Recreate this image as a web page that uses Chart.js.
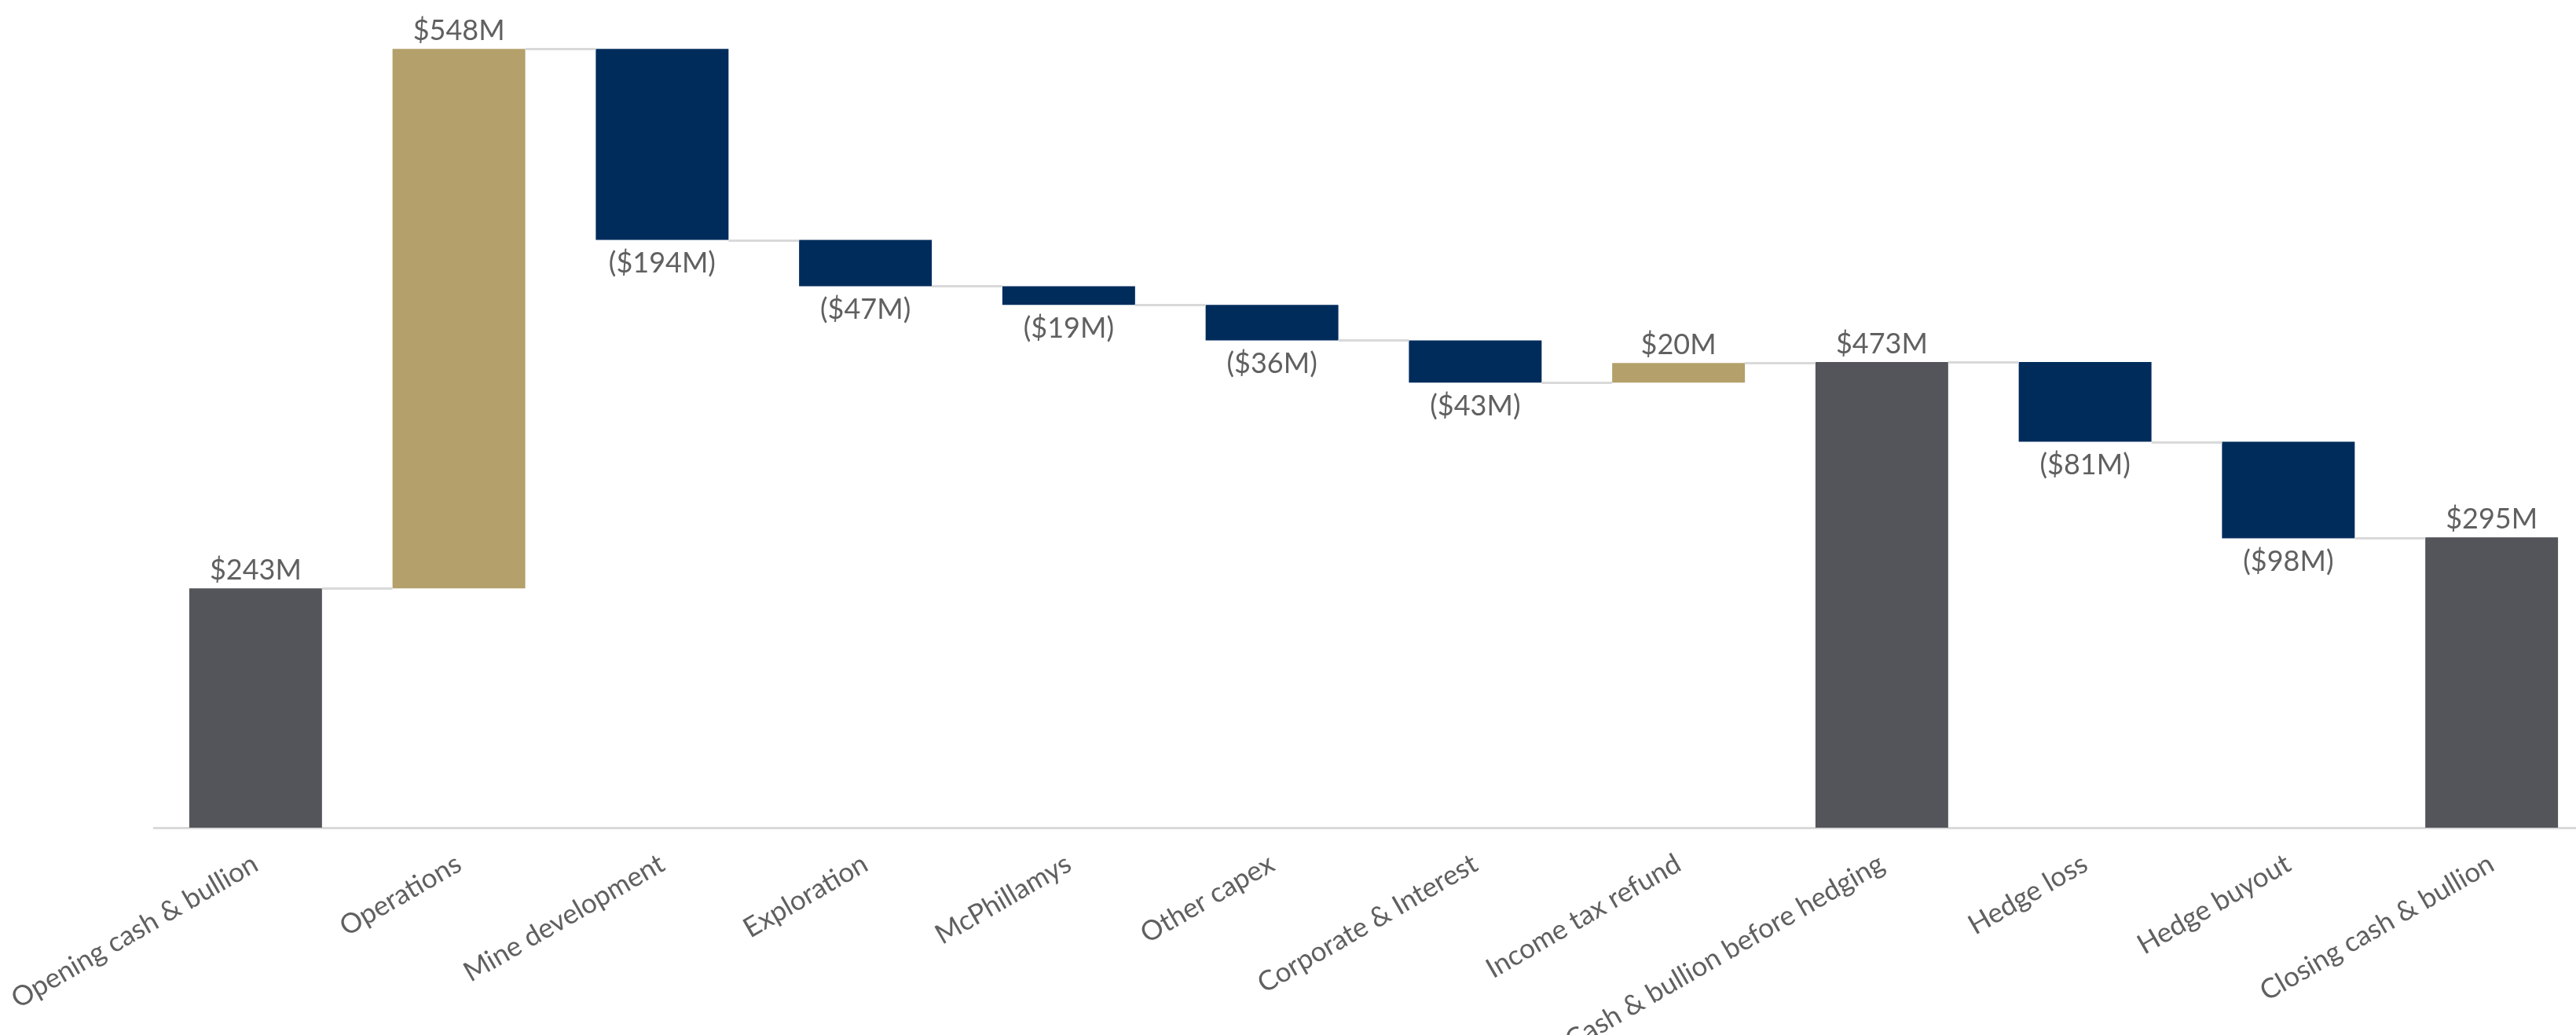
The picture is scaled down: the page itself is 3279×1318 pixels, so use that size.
<!DOCTYPE html>
<html>
<head>
<meta charset="utf-8">
<script src="https://cdn.jsdelivr.net/npm/chart.js@4/dist/chart.umd.min.js"></script>
<style>
  html, body { margin: 0; padding: 0; background: #ffffff; overflow: hidden; }
  #wrap { width: 3302px; height: 1318px; }
</style>
</head>
<body>
<div id="wrap"><canvas id="c" width="3302" height="1318"></canvas></div>
<script>
const categories = [
  'Opening cash & bullion', 'Operations', 'Mine development', 'Exploration',
  'McPhillamys', 'Other capex', 'Corporate & Interest', 'Income tax refund',
  'Cash & bullion before hedging', 'Hedge loss', 'Hedge buyout', 'Closing cash & bullion'
];
const values = [243, 548, -194, -47, -19, -36, -43, 20, 473, -81, -98, 295];
const kinds = ['total', 'up', 'down', 'down', 'down', 'down', 'down', 'up', 'total', 'down', 'down', 'total'];
const kindColors = { total: '#54555A', up: '#B4A06A', down: '#002C5C' };

// floating ranges built from the values
const ranges = [];
const ends = [];
let level = 0;
values.forEach((v, i) => {
  if (kinds[i] === 'total') { ranges.push([0, v]); level = v; }
  else { ranges.push([level, level + v]); level += v; }
  ends.push(level);
});

function fmt(v) {
  return v < 0 ? '($' + Math.abs(v) + 'M)' : '$' + v + 'M';
}

const FONT = 'Lato, "Open Sans", sans-serif';

const waterfallExtras = {
  id: 'waterfallExtras',
  afterDatasetsDraw(chart) {
    const ctx = chart.ctx;
    const meta = chart.getDatasetMeta(0);
    const y = chart.scales.y;
    ctx.save();
    // connectors
    ctx.strokeStyle = '#D9D9D9';
    ctx.lineWidth = 3;
    for (let i = 0; i < meta.data.length - 1; i++) {
      const a = meta.data[i], b = meta.data[i + 1];
      const py = Math.round(y.getPixelForValue(ends[i])) + 0.5;
      ctx.beginPath();
      ctx.moveTo(a.x + a.width / 2, py);
      ctx.lineTo(b.x - b.width / 2, py);
      ctx.stroke();
    }
    // labels
    ctx.fillStyle = '#606060';
    ctx.font = '36px ' + FONT;
    ctx.textAlign = 'center';
    meta.data.forEach((bar, i) => {
      const v = values[i];
      const top = y.getPixelForValue(Math.max(ranges[i][0], ranges[i][1]));
      const bottom = y.getPixelForValue(Math.min(ranges[i][0], ranges[i][1]));
      if (v >= 0) {
        ctx.textBaseline = 'alphabetic';
        ctx.fillText(fmt(v), bar.x, top - 11);
      } else {
        ctx.textBaseline = 'top';
        ctx.fillText(fmt(v), bar.x, bottom + 12);
      }
    });
    ctx.restore();
  }
};

new Chart(document.getElementById('c'), {
  type: 'bar',
  data: {
    labels: categories,
    datasets: [{
      data: ranges,
      backgroundColor: kinds.map(k => kindColors[k]),
      borderWidth: 0,
      borderSkipped: false,
      barPercentage: 0.653,
      categoryPercentage: 1.0
    }]
  },
  options: {
    responsive: false,
    animation: false,
    devicePixelRatio: 1,
    layout: { padding: { left: 196, right: 1, top: 51, bottom: 0 } },
    plugins: {
      legend: { display: false },
      tooltip: { enabled: false },
      title: { display: false }
    },
    scales: {
      x: {
        grid: { display: false },
        border: { display: true, color: '#D9D9D9', width: 3 },
        ticks: {
          color: '#606060',
          font: { family: FONT, size: 35 },
          minRotation: 30,
          maxRotation: 30,
          autoSkip: false,
          padding: 17
        },
        afterFit(scale) {
          scale.paddingLeft = 0;
          scale.paddingRight = 0;
          scale.height = 264;
        }
      },
      y: {
        display: false,
        min: 0,
        max: 800
      }
    }
  },
  plugins: [waterfallExtras]
});
</script>
</body>
</html>
